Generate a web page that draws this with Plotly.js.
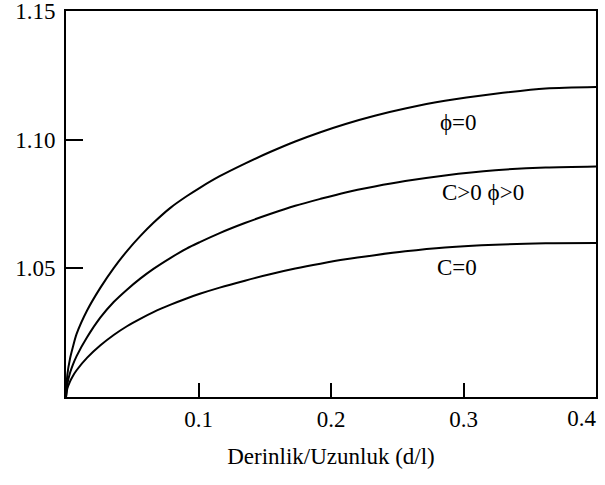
<!DOCTYPE html>
<html>
<head>
<meta charset="utf-8">
<script src="https://cdn.plot.ly/plotly-3.0.1.min.js"></script>
<style>html,body{margin:0;padding:0;background:#fff;}#chart{width:605px;height:485px;}</style>
</head>
<body>
<div id="chart"></div>
<script>
// Depth/length ratio sampled along each curve
const xRatio = [0, 0.001, 0.003, 0.005, 0.008, 0.016, 0.026, 0.036, 0.046, 0.056, 0.066, 0.079, 0.091, 0.101, 0.116, 0.135, 0.154, 0.173, 0.192, 0.211, 0.233, 0.256, 0.286, 0.324, 0.362, 0.4];
// phi = 0
const phiZero = [1.0, 1.0086, 1.0148, 1.0190, 1.0245, 1.0337, 1.0425, 1.0501, 1.0567, 1.0625, 1.0677, 1.0736, 1.0780, 1.0813, 1.0858, 1.0907, 1.0952, 1.0993, 1.1029, 1.1061, 1.1093, 1.1121, 1.1151, 1.1178, 1.1199, 1.1205];
// C > 0, phi > 0
const cPosPhiPos = [1.0, 1.0050, 1.0093, 1.0123, 1.0159, 1.0233, 1.0309, 1.0369, 1.0417, 1.0460, 1.0498, 1.0541, 1.0577, 1.0602, 1.0637, 1.0676, 1.0711, 1.0743, 1.0770, 1.0795, 1.0818, 1.0839, 1.0861, 1.0881, 1.0892, 1.0896];
// C = 0
const cZero = [1.0, 1.0033, 1.0060, 1.0080, 1.0104, 1.0153, 1.0201, 1.0241, 1.0275, 1.0304, 1.0330, 1.0359, 1.0383, 1.0401, 1.0425, 1.0452, 1.0477, 1.0499, 1.0518, 1.0535, 1.0551, 1.0566, 1.0581, 1.0592, 1.0597, 1.0598];

const curveNames = ["ϕ=0", "C>0 ϕ>0", "C=0"];
const labelX = [0.296, 0.315, 0.295];
const labelY = [1.1065, 1.0793, 1.0505];

const xTicks = [0.1, 0.2, 0.3];
const xTickText = ["0.1", "0.2", "0.3"];
const xEndTick = [0.4];
const xEndTickText = ["0.4"];
const yTicks = [1.05, 1.10, 1.15];
const yTickText = ["1.05", "1.10", "1.15"];

const series = [phiZero, cPosPhiPos, cZero];
const axisOf = ["x", "x", "x2"];
const font = "Liberation Serif, Times New Roman, serif";
const fs = 23;

const traces = series.map((ys, i) => ({
  x: xRatio, y: ys, xaxis: axisOf[i], yaxis: "y",
  type: "scatter", mode: "lines", name: curveNames[i],
  line: {color: "#000", width: 2, shape: "spline", smoothing: 0.8},
  hoverinfo: "skip"
}));

const annotations = curveNames.map((t, i) => ({
  x: labelX[i], y: labelY[i], xref: "x", yref: "y", text: t, showarrow: false,
  font: {family: font, size: fs, color: "#000"}
}));

const layout = {
  width: 605, height: 485,
  margin: {l: 66, r: 9, t: 11, b: 88},
  paper_bgcolor: "#fff", plot_bgcolor: "#fff",
  showlegend: false,
  font: {family: font, size: fs, color: "#000"},
  xaxis: {
    range: [0, 0.4], tickvals: xTicks, ticktext: xTickText,
    ticks: "inside", ticklen: 14, tickwidth: 2, tickcolor: "#000",
    showline: true, linecolor: "#000", linewidth: 2, mirror: true,
    showgrid: false, zeroline: false, automargin: false,
    tickfont: {family: font, size: fs, color: "#000"},
    title: {text: "Derinlik/Uzunluk (d/l)", font: {family: font, size: fs, color: "#000"}, standoff: 17}
  },
  xaxis2: {
    matches: "x", overlaying: "x", anchor: "y", side: "bottom",
    tickvals: xEndTick, ticktext: xEndTickText,
    ticks: "", showline: false, showgrid: false, zeroline: false, automargin: false,
    ticklabelposition: "outside left", ticklabelstandoff: 5,
    tickfont: {family: font, size: fs, color: "#000"}
  },
  yaxis: {
    range: [1.0, 1.15], tickvals: yTicks, ticktext: yTickText,
    ticks: "inside", ticklen: 17, tickwidth: 2, tickcolor: "#000",
    showline: true, linecolor: "#000", linewidth: 2, mirror: true,
    showgrid: false, zeroline: false, automargin: false,
    ticklabeloverflow: "allow", ticklabelstandoff: 4,
    tickfont: {family: font, size: fs, color: "#000"}
  },
  annotations: annotations
};

Plotly.newPlot("chart", traces, layout, {staticPlot: true, displayModeBar: false});
</script>
</body>
</html>
